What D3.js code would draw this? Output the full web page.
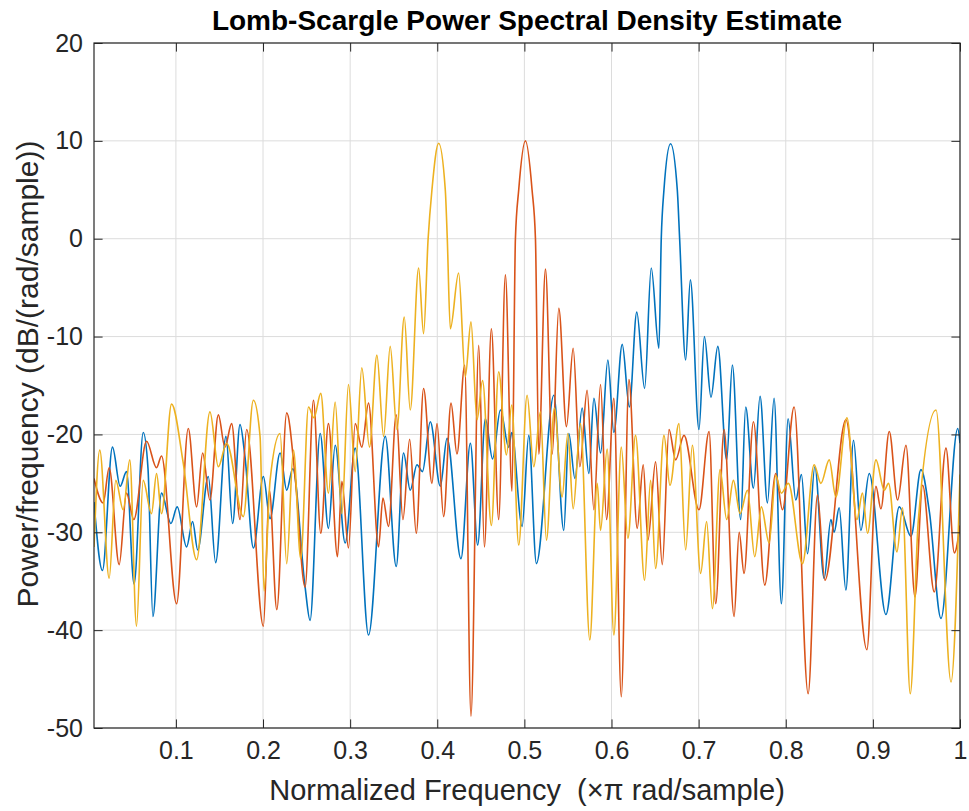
<!DOCTYPE html>
<html>
<head>
<meta charset="utf-8">
<script src="https://cdn.jsdelivr.net/npm/d3@7"></script>
<style>
  html, body { margin: 0; padding: 0; background: #fff; }
  text { font-family: "Liberation Sans", Arial, Helvetica, sans-serif; }
</style>
</head>
<body>
<svg id="chart" width="969" height="811"></svg>
<script>
// ---- Data ----
const xTicks = [0.1, 0.2, 0.3, 0.4, 0.5, 0.6, 0.7, 0.8, 0.9, 1];
const yTicks = [-50, -40, -30, -20, -10, 0, 10, 20];
const xDomain = [0.006, 1];
const yDomain = [-50, 20];

const titleText = "Lomb-Scargle Power Spectral Density Estimate";
const xLabelText = "Normalized Frequency  (\u00D7\u03C0 rad/sample)";
const yLabelText = "Power/frequency (dB/(rad/sample))";

// [normalized frequency, dB]
const blueSeries = [
  [0.006,-26.9],[0.0157,-33.9],[0.0272,-21.3],[0.036,-25.3],[0.0433,-23.8],[0.052,-35.3],
  [0.0625,-19.8],[0.068,-23.5],[0.0736,-38.6],[0.0835,-26.0],[0.0943,-29.1],[0.1015,-27.4],
  [0.1123,-31.5],[0.1192,-28.9],[0.125,-31.8],[0.1372,-24.3],[0.1456,-33.1],[0.1575,-20.2],
  [0.1651,-29.1],[0.1736,-19.0],[0.1793,-22.3],[0.189,-31.6],[0.2004,-24.3],[0.208,-28.6],
  [0.2196,-21.9],[0.2272,-25.7],[0.2341,-23.5],[0.2483,-35.6],[0.254,-39.0],[0.2656,-19.9],
  [0.2751,-29.6],[0.2828,-21.1],[0.2943,-31.1],[0.3058,-21.4],[0.3211,-40.5],[0.3403,-20.2],
  [0.3529,-33.5],[0.3613,-21.9],[0.369,-25.7],[0.3767,-23.1],[0.383,-23.8],[0.392,-18.7],
  [0.4035,-25.3],[0.4112,-20.4],[0.4272,-32.7],[0.438,-20.9],[0.4464,-31.3],[0.4552,-18.4],
  [0.4635,-22.5],[0.4725,-17.5],[0.482,-21.3],[0.4855,-19.8],[0.4974,-29.4],[0.505,-20.1],
  [0.5138,-33.2],[0.5338,-16.0],[0.5452,-29.8],[0.551,-19.9],[0.558,-24.5],[0.5663,-17.3],
  [0.574,-24.0],[0.5798,-16.3],[0.5875,-21.9],[0.5958,-12.4],[0.6027,-19.8],[0.6123,-10.8],
  [0.6205,-17.2],[0.629,-7.5],[0.638,-15.3],[0.6456,-3.0],[0.6544,-11.2],[0.6571,0],
  [0.6602,5],[0.6678,9.7],[0.6755,5],[0.6782,0],[0.6851,-12.4],[0.6905,-4.2],[0.7004,-19.5],
  [0.7066,-10.0],[0.7142,-16.2],[0.722,-11.0],[0.7322,-22.6],[0.7387,-12.9],[0.7483,-28.7],
  [0.754,-17.2],[0.7629,-25.5],[0.7705,-16.1],[0.779,-27.0],[0.7866,-16.3],[0.795,-37.3],
  [0.8027,-18.4],[0.8115,-26.7],[0.818,-24.1],[0.825,-32.2],[0.8334,-23.3],[0.8441,-34.7],
  [0.8518,-28.7],[0.8555,-30.0],[0.8613,-27.5],[0.869,-35.9],[0.8778,-20.6],[0.8862,-29.8],
  [0.8958,-24.0],[0.915,-38.4],[0.9303,-27.4],[0.9437,-30.4],[0.9552,-23.6],[0.965,-28.0],
  [0.9782,-38.8],[0.9974,-19.4],[1.0,-20.9]
];

const orangeSeries = [
  [0.006,-24.5],[0.0165,-27.0],[0.0234,-23.4],[0.0349,-33.3],[0.0433,-26.0],[0.0517,-28.7],
  [0.0663,-20.7],[0.0778,-23.4],[0.0835,-22.2],[0.1008,-37.3],[0.1142,-19.4],[0.1238,-27.4],
  [0.1307,-21.9],[0.139,-26.7],[0.1487,-18.0],[0.1563,-21.3],[0.164,-18.9],[0.1736,-28.7],
  [0.1812,-19.5],[0.2004,-39.6],[0.2073,-25.7],[0.2158,-37.9],[0.2272,-17.8],[0.237,-24.5],
  [0.2483,-35.6],[0.2579,-16.5],[0.2663,-30.1],[0.2751,-18.9],[0.2855,-32.5],[0.2905,-24.8],
  [0.2981,-31.6],[0.3058,-18.9],[0.3134,-21.3],[0.3211,-16.8],[0.3326,-31.5],[0.3376,-26.5],
  [0.344,-29.4],[0.3529,-18.0],[0.3606,-28.7],[0.3683,-20.5],[0.3759,-30.1],[0.3843,-15.3],
  [0.3939,-25.0],[0.3997,-18.9],[0.4073,-28.4],[0.4158,-16.8],[0.4226,-22.0],[0.4315,-12.9],
  [0.4387,-48.8],[0.4476,-10.9],[0.4541,-31.5],[0.4621,-9.2],[0.4705,-28.7],[0.4782,-3.7],
  [0.4858,-25.8],[0.4897,0],[0.4935,5],[0.5012,10.0],[0.5088,5],[0.5127,0],[0.5165,-22],
  [0.5242,-3.1],[0.532,-22],[0.5395,-7.1],[0.5483,-19.2],[0.556,-11.2],[0.5637,-23.3],
  [0.572,-15.5],[0.5798,-27.7],[0.5874,-14.9],[0.5943,-28.7],[0.6027,-16.3],[0.6112,-46.8],
  [0.62,-14.4],[0.6295,-29.6],[0.6364,-23.1],[0.6418,-30.8],[0.6506,-22.8],[0.6583,-33.3],
  [0.666,-19.5],[0.6736,-22.6],[0.6832,-20.1],[0.7004,-27.7],[0.712,-19.7],[0.7196,-37.3],
  [0.7292,-19.5],[0.7407,-38.6],[0.7465,-30.0],[0.7521,-34.2],[0.7629,-18.7],[0.7759,-35.4],
  [0.7885,-24.0],[0.7962,-27.7],[0.8096,-17.2],[0.8257,-46.5],[0.8364,-26.2],[0.8449,-34.9],
  [0.869,-18.5],[0.8931,-42.0],[0.9035,-25.3],[0.9092,-27.6],[0.9188,-19.7],[0.9284,-26.7],
  [0.938,-21.1],[0.9483,-36.6],[0.9571,-25.2],[0.9705,-36.1],[0.9839,-21.4],[0.9935,-32.1],
  [1.0,-29.3]
];

const yellowSeries = [
  [0.006,-31.5],[0.0126,-21.6],[0.0234,-34.7],[0.031,-24.7],[0.0395,-27.7],[0.0471,-22.6],
  [0.0548,-39.6],[0.0624,-24.7],[0.072,-28.1],[0.0778,-24.0],[0.0835,-28.1],[0.095,-16.9],
  [0.1084,-22.9],[0.1238,-32.8],[0.1391,-17.7],[0.1487,-23.3],[0.1582,-20.9],[0.1774,-28.4],
  [0.1889,-16.5],[0.1966,-20.2],[0.2012,-36.0],[0.2081,-24.7],[0.2196,-19.9],[0.2272,-33.2],
  [0.2349,-21.6],[0.2433,-32.7],[0.2522,-17.2],[0.2585,-18.3],[0.2663,-15.8],[0.2751,-26.0],
  [0.2828,-16.7],[0.2905,-28.1],[0.2981,-14.9],[0.3058,-23.8],[0.3134,-13.2],[0.3222,-21.3],
  [0.3307,-11.9],[0.3384,-20.2],[0.346,-11.0],[0.3537,-19.5],[0.3621,-8.0],[0.369,-17.5],
  [0.3786,-3.0],[0.3843,-9.7],[0.3895,0],[0.3939,5],[0.4016,9.75],[0.4092,5],[0.4115,0],
  [0.415,-9.2],[0.4245,-3.5],[0.4322,-14.1],[0.4387,-8.5],[0.4456,-18.5],[0.452,-14.5],
  [0.4621,-29.3],[0.4705,-13.6],[0.4794,-22.1],[0.4855,-17.0],[0.4935,-31.3],[0.5031,-16.0],
  [0.5108,-23.3],[0.5184,-17.7],[0.5253,-30.8],[0.5345,-17.3],[0.5433,-26.4],[0.5499,-19.9],
  [0.556,-27.6],[0.5644,-18.9],[0.5751,-41.0],[0.5836,-25.0],[0.5874,-29.8],[0.595,-21.5],
  [0.6027,-40.5],[0.6112,-21.3],[0.6188,-30.6],[0.6276,-20.1],[0.638,-34.9],[0.6449,-24.7],
  [0.6506,-33.7],[0.6602,-20.1],[0.6671,-25.2],[0.6774,-18.9],[0.6851,-31.8],[0.6928,-21.1],
  [0.7023,-34.2],[0.7092,-28.9],[0.7158,-37.8],[0.7246,-23.6],[0.7322,-28.7],[0.7399,-24.7],
  [0.7476,-28.1],[0.756,-25.7],[0.7644,-32.5],[0.772,-27.4],[0.7809,-31.1],[0.7885,-24.2],
  [0.795,-26.0],[0.803,-25.0],[0.8192,-33.2],[0.8326,-23.1],[0.8403,-25.0],[0.8499,-22.6],
  [0.8575,-26.4],[0.8702,-18.3],[0.8817,-28.7],[0.888,-26.0],[0.8939,-30.1],[0.9035,-22.6],
  [0.9131,-25.7],[0.918,-25.0],[0.9276,-32.0],[0.934,-27.5],[0.9429,-46.5],[0.952,-29.0],
  [0.9725,-17.5],[0.9897,-45.3],[1.0,-24.1]
];

const seriesList = [blueSeries, orangeSeries, yellowSeries];
const seriesColors = ["#0072BD", "#D95319", "#EDB120"];

// ---- Layout ----
const W = 969, H = 811;
const margin = { left: 94, right: 9, top: 43, bottom: 83 };
const iw = W - margin.left - margin.right;
const ih = H - margin.top - margin.bottom;
const axisColor = "#262626";

const svg = d3.select("#chart");
svg.append("rect").attr("width", W).attr("height", H).attr("fill", "#fff");

const x = d3.scaleLinear().domain(xDomain).range([0, iw]);
const y = d3.scaleLinear().domain(yDomain).range([ih, 0]);

const g = svg.append("g").attr("transform", `translate(${margin.left},${margin.top})`);

g.append("defs").append("clipPath").attr("id", "plotclip")
  .append("rect").attr("x", 0).attr("y", 0).attr("width", iw).attr("height", ih);

// Grid
const grid = g.append("g").attr("class", "grid");
grid.selectAll("line.gx").data(xTicks).join("line")
  .attr("class", "gx")
  .attr("x1", d => x(d)).attr("x2", d => x(d))
  .attr("y1", 0).attr("y2", ih)
  .attr("stroke", "#dcdcdc").attr("stroke-width", 1);
grid.selectAll("line.gy").data(yTicks).join("line")
  .attr("class", "gy")
  .attr("x1", 0).attr("x2", iw)
  .attr("y1", d => y(d)).attr("y2", d => y(d))
  .attr("stroke", "#dcdcdc").attr("stroke-width", 1);

// Lines
const line = d3.line()
  .x(d => x(d[0]))
  .y(d => y(d[1]))
  .curve(d3.curveMonotoneX);

const plot = g.append("g").attr("clip-path", "url(#plotclip)");
seriesList.forEach((s, i) => {
  plot.append("path")
    .datum(s)
    .attr("d", line)
    .attr("fill", "none")
    .attr("stroke", seriesColors[i])
    .attr("stroke-width", 1.6)
    .attr("stroke-linejoin", "round");
});

// Axes
const tickLen = 8.6;
const fontSize = 25;
const xAxis = d3.axisBottom(x).tickValues(xTicks).tickFormat(d3.format("~g"))
  .tickSizeInner(-tickLen).tickSizeOuter(0).tickPadding(13);
const yAxis = d3.axisLeft(y).tickValues(yTicks).tickFormat(d => d < 0 ? "-" + Math.abs(d) : String(d))
  .tickSizeInner(-tickLen).tickSizeOuter(0).tickPadding(11);
const xAxisTop = d3.axisTop(x).tickValues(xTicks).tickFormat("")
  .tickSizeInner(-tickLen).tickSizeOuter(0);
const yAxisRight = d3.axisRight(y).tickValues(yTicks).tickFormat("")
  .tickSizeInner(-tickLen).tickSizeOuter(0);

function styleAxis(sel) {
  sel.selectAll("path.domain").remove();
  sel.selectAll("line").attr("stroke", axisColor).attr("stroke-width", 1);
  sel.selectAll("text").attr("fill", axisColor)
    .style("font-size", fontSize + "px")
    .style("font-family", "'Liberation Sans', Arial, Helvetica, sans-serif");
}

g.append("g").attr("transform", `translate(0,${ih})`).call(xAxis).call(styleAxis);
g.append("g").call(yAxis).call(styleAxis);
g.append("g").call(xAxisTop).call(styleAxis);
g.append("g").attr("transform", `translate(${iw},0)`).call(yAxisRight).call(styleAxis);

// Box
g.append("rect").attr("x", 0).attr("y", 0).attr("width", iw).attr("height", ih)
  .attr("fill", "none").attr("stroke", axisColor).attr("stroke-width", 1.2);

// Title and labels
svg.append("text")
  .attr("x", margin.left + iw / 2).attr("y", 30)
  .attr("text-anchor", "middle")
  .attr("fill", "#000")
  .style("font-size", "28px").style("font-weight", "bold")
  .text(titleText);

svg.append("text")
  .attr("x", margin.left + iw / 2).attr("y", 800)
  .attr("text-anchor", "middle")
  .attr("fill", axisColor)
  .style("font-size", "29px")
  .style("white-space", "pre")
  .text(xLabelText);

svg.append("text")
  .attr("transform", `translate(38,374) rotate(-90)`)
  .attr("text-anchor", "middle")
  .attr("fill", axisColor)
  .style("font-size", "30px")
  .text(yLabelText);
</script>
</body>
</html>
